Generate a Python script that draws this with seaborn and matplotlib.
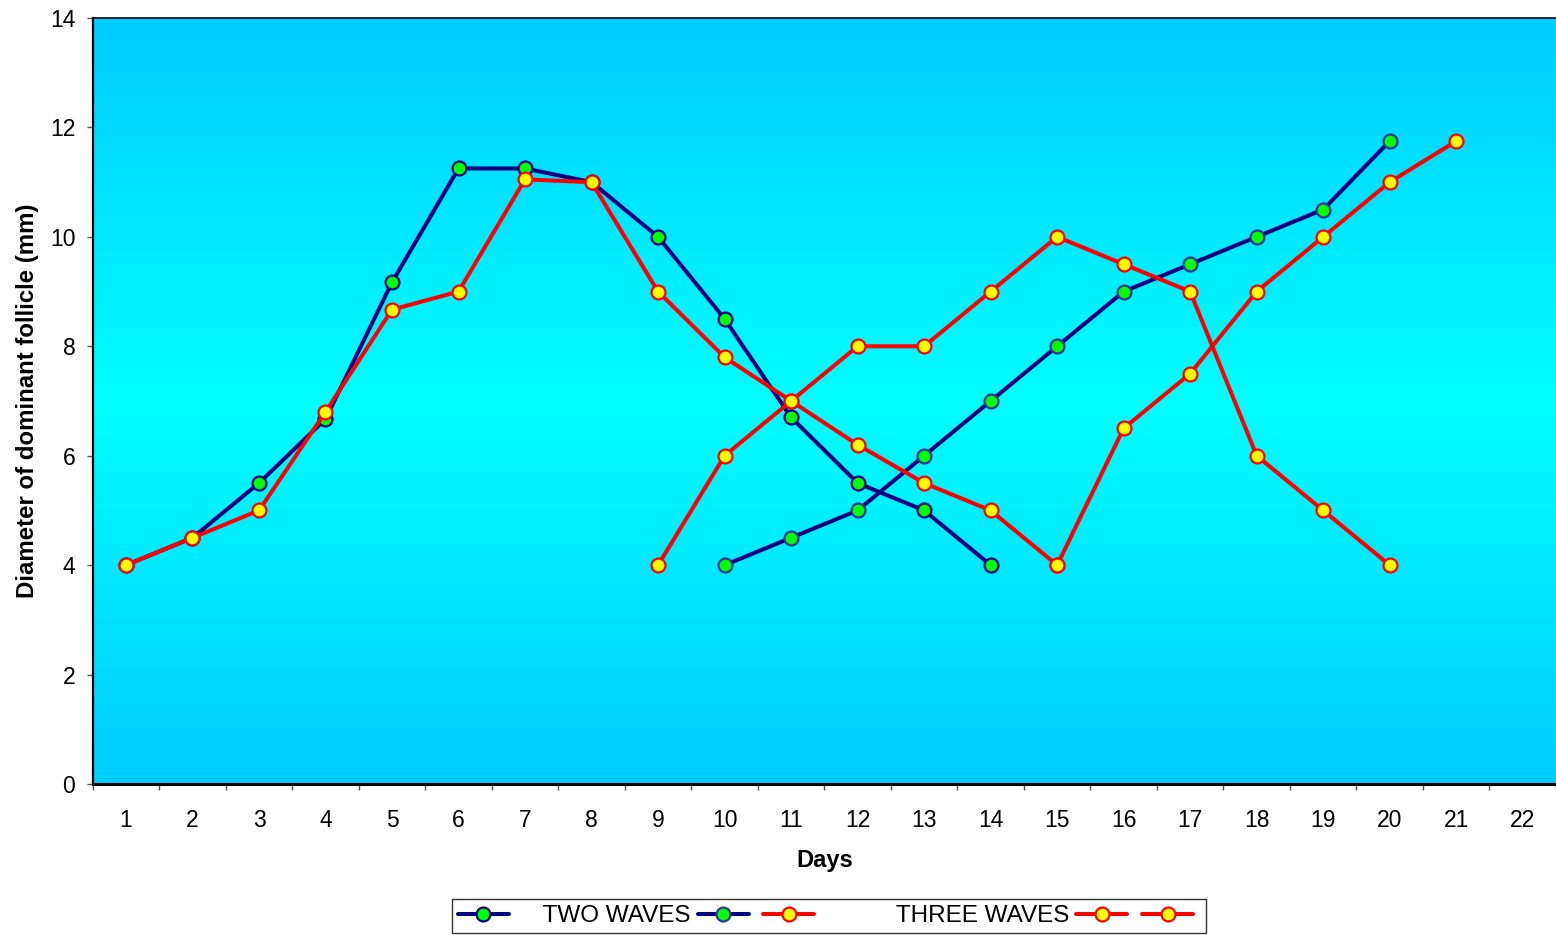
import numpy as np
import pandas as pd
import matplotlib
matplotlib.use("Agg")
import matplotlib.pyplot as plt
import seaborn as sns
from matplotlib.colors import LinearSegmentedColormap
from matplotlib.lines import Line2D

# ---- data ----
days_two_1 = list(range(1, 15))
two_wave_1 = [4, 4.5, 5.5, 6.67, 9.17, 11.25, 11.25, 11, 10, 8.5, 6.7, 5.5, 5, 4]
days_two_2 = list(range(10, 21))
two_wave_2 = [4, 4.5, 5, 6, 7, 8, 9, 9.5, 10, 10.5, 11.75]
days_three_1 = list(range(1, 16))
three_wave_1 = [4, 4.5, 5, 6.8, 8.67, 9, 11.05, 11, 9, 7.8, 7, 6.2, 5.5, 5, 4]
days_three_2 = list(range(9, 21))
three_wave_2 = [4, 6, 7, 8, 8, 9, 10, 9.5, 9, 6, 5, 4]
days_three_3 = list(range(15, 22))
three_wave_3 = [4, 6.5, 7.5, 9, 10, 11, 11.75]
day_labels = [str(d) for d in range(1, 23)]
y_ticks = [0, 2, 4, 6, 8, 10, 12, 14]

sns.set_style("white")
plt.rcParams["font.family"] = ["Liberation Sans", "DejaVu Sans"]
plt.rcParams["text.color"] = "black"
plt.rcParams["axes.labelcolor"] = "black"
plt.rcParams["xtick.labelcolor"] = "black"
plt.rcParams["ytick.labelcolor"] = "black"

fig = plt.figure(figsize=(15.56, 9.35), dpi=100)
ax = fig.add_axes([92.7/1556, 151/935, 1 - 92.7/1556, (784-18)/935])

# gradient background
cmap = LinearSegmentedColormap.from_list("bg", ["#00CCFF", "#00FFFF", "#00CCFF"])
grad = np.linspace(0, 1, 256).reshape(-1, 1)
ax.imshow(grad, aspect="auto", cmap=cmap, extent=[0, 1, 0, 1],
          transform=ax.transAxes, zorder=0, interpolation="bicubic")

series = [
    (days_two_1, two_wave_1, "#000080", "#00FF00", "#000080"),
    (days_two_2, two_wave_2, "#000080", "#00FF00", "#333399"),
    (days_three_1, three_wave_1, "#FF0000", "#FFFF00", "#FF0000"),
    (days_three_2, three_wave_2, "#FF0000", "#FFFF00", "#FF0000"),
    (days_three_3, three_wave_3, "#FF0000", "#FFFF00", "#FF0000"),
]
for xs, ys, lc, fc, ec in series:
    df = pd.DataFrame({"day": xs, "val": ys})
    sns.lineplot(data=df, x="day", y="val", ax=ax, color=lc, linewidth=2.9,
                 marker="o", markersize=10, markerfacecolor=fc,
                 markeredgecolor=ec, markeredgewidth=1.6, zorder=3)

ax.set_xlim(0.5, 22.37)
ax.set_ylim(0, 14)

# x ticks at category boundaries, labels at centers
ax.set_xticks(np.arange(0.5, 22.6, 1.0))
ax.set_xticklabels([])
ax.set_xticks(np.arange(1, 23), minor=True)
ax.set_xticklabels(day_labels, minor=True, fontsize=16.5, color="black")
ax.tick_params(axis="x", which="major", direction="out", length=4.5, width=1, color="#555555", bottom=True)
ax.tick_params(axis="x", which="minor", length=0, pad=18, bottom=True)
ax.set_yticks(y_ticks)
ax.set_yticklabels([str(t) for t in y_ticks], fontsize=16.5, color="black")
ax.tick_params(axis="y", direction="out", length=4.5, width=1, color="#555555", left=True, pad=8)

for side in ["left", "bottom", "top"]:
    ax.spines[side].set_visible(True)
    ax.spines[side].set_color("black")
ax.spines["left"].set_linewidth(1.6)
ax.spines["bottom"].set_linewidth(2.2)
ax.spines["top"].set_linewidth(1.2)
ax.spines["right"].set_visible(False)

ax.set_xlabel("Days", fontsize=17, fontweight="bold", labelpad=12, color="black")
ax.set_ylabel("Diameter of dominant follicle (mm)", fontsize=17.3, fontweight="bold",
              labelpad=8, color="black")

# legend
def h(lc, fc, ec):
    return Line2D([], [], color=lc, linewidth=2.9, marker="o", markersize=10,
                  markerfacecolor=fc, markeredgecolor=ec, markeredgewidth=1.6)
handles = [h(*s[2:]) for s in series]
labels = ["    TWO WAVES", "", "           THREE WAVES", "", ""]
leg = fig.legend(handles, labels, loc="center", bbox_to_anchor=(829/1556, 1 - 916/935),
                 ncol=5, fontsize=17.5, frameon=True, fancybox=False, edgecolor="black",
                 handlelength=2.1, handletextpad=0.3, columnspacing=0.3, borderpad=0.25,
                 numpoints=1, labelcolor="black")
leg.get_frame().set_linewidth(1.0)

fig.savefig("out.png", dpi=100, facecolor="white")
